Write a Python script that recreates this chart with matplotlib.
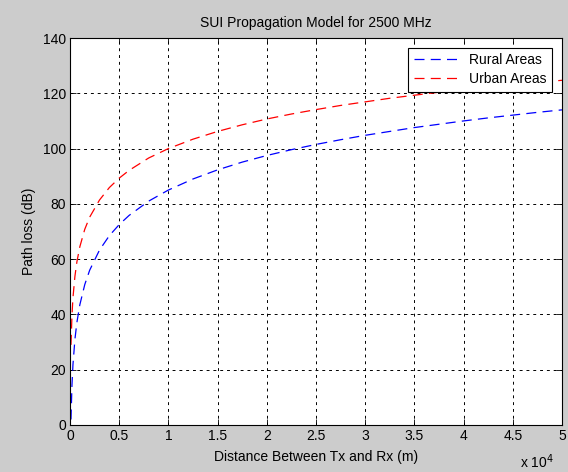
import numpy as np
import matplotlib
matplotlib.use("Agg")
import matplotlib.pyplot as plt

distance = [100, 200, 300, 500, 700, 1000, 1500, 2000, 3000, 4000, 5000, 6000, 8000,
            10000, 12500, 15000, 17500, 20000, 22500, 25000, 27500, 30000, 32500,
            35000, 37500, 40000, 42500, 45000, 47500, 50000]
rural = [2.0, 14.5, 21.8, 31.0, 37.1, 43.5, 50.8, 56.0, 63.3, 68.5, 72.5, 75.8, 81.0,
         85.0, 89.0, 92.3, 95.1, 97.5, 99.6, 101.5, 103.2, 104.8, 106.2,
         107.6, 108.8, 110.0, 111.1, 112.1, 113.1, 114.0]
urban = [29.0, 39.7, 46.0, 53.8, 59.0, 64.5, 70.8, 75.2, 81.4, 85.9, 89.3, 92.1, 96.6,
         100.0, 103.4, 106.2, 108.6, 110.7, 112.5, 114.1, 115.6, 116.9, 118.2,
         119.3, 120.4, 121.4, 122.3, 123.1, 123.9, 124.7]

plt.rcParams['font.family'] = ['Liberation Sans', 'DejaVu Sans']
bg = '#cccccc'
fig = plt.figure(figsize=(5.68, 4.72), dpi=100, facecolor=bg)
ax = fig.add_axes([70/568, 47/472, 492/568, 387/472])
ax.set_facecolor('white')

x = np.array(distance) / 1e4
ax.plot(x, rural, color='#0000ff', lw=0.9, dashes=(8, 5), label='Rural Areas')
ax.plot(x, urban, color='#ff0000', lw=0.9, dashes=(8, 5), label='Urban Areas')

ax.set_xlim(0, 5)
ax.set_ylim(0, 140)
ax.set_xticks(np.arange(0, 5.01, 0.5))
ax.set_xticklabels(['0', '0.5', '1', '1.5', '2', '2.5', '3', '3.5', '4', '4.5', '5'])
ax.set_yticks(np.arange(0, 141, 20))
ax.tick_params(direction='in', top=True, right=True, labelsize=10, length=4, width=0.6, pad=3)
ax.grid(True, color='black', linestyle=(0, (3, 4)), lw=0.7)
for s in ax.spines.values():
    s.set_linewidth(0.8)

ax.set_title('SUI Propagation Model for 2500 MHz', fontsize=10, pad=8)
ax.set_xlabel('Distance Between Tx and Rx (m)', fontsize=10, labelpad=5)
ax.set_ylabel('Path loss (dB)', fontsize=10, labelpad=5)
fig.text(537/568, 1 - 462/472, r'x 10$^4$', fontsize=10, ha='center', va='center')

leg = ax.legend(loc='upper right', fontsize=10, frameon=True, fancybox=False,
                edgecolor='black', framealpha=1, handlelength=3.2,
                borderaxespad=0.7, labelspacing=0.35, borderpad=0.4)
leg.get_frame().set_linewidth(0.8)

fig.savefig('out.png', dpi=100, facecolor=bg)
